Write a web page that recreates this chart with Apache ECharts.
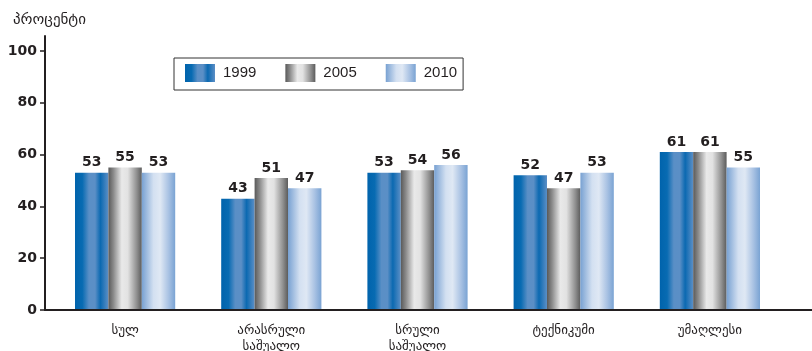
<!DOCTYPE html>
<html>
<head>
<meta charset="utf-8">
<script src="https://cdn.jsdelivr.net/npm/echarts@6/dist/echarts.min.js"></script>
<style>
  html, body { margin: 0; padding: 0; background: #fff; }
  #chart { width: 812px; height: 351px; }
</style>
</head>
<body>
<div id="chart"></div>
<script>
// Education levels and shares (percent) by survey year
const categories = ['სულ', 'არასრული\nსაშუალო', 'სრული\nსაშუალო', 'ტექნიკუმი', 'უმაღლესი'];
const years = ['1999', '2005', '2010'];
const values1999 = [53, 43, 53, 52, 61];
const values2005 = [55, 51, 54, 47, 61];
const values2010 = [53, 47, 56, 53, 55];
const yTicks = [0, 20, 40, 60, 80, 100];
const yTitle = 'პროცენტი';

const ink = '#231f20';
const font = 'DejaVu Sans';

function hGrad(stops) {
  return {
    type: 'linear', x: 0, y: 0, x2: 1, y2: 0,
    colorStops: stops.map(([offset, color]) => ({ offset, color }))
  };
}

const fills = [
  hGrad([[0, '#0063ac'], [0.22, '#086bb2'], [0.42, '#5a8fc6'], [0.6, '#5b8fc6'], [0.76, '#0b69b1'], [1, '#5c8fc6']]),
  hGrad([[0, '#595959'], [0.15, '#8a8a8a'], [0.4, '#e9e9e9'], [0.58, '#e2e2e2'], [0.85, '#8f8f8f'], [1, '#5c5c5c']]),
  hGrad([[0, '#78a1d2'], [0.35, '#d3e0f1'], [0.55, '#dfe8f4'], [0.8, '#a9c2e3'], [1, '#7aa3d3']])
];

const seriesValues = [values1999, values2005, values2010];
const yMax = 105.8;

const chart = echarts.init(document.getElementById('chart'), null, { renderer: 'canvas' });
chart.setOption({
  animation: false,
  backgroundColor: '#fff',
  title: {
    text: yTitle, left: 8, top: 8,
    textStyle: { fontFamily: font, fontSize: 15, fontWeight: 'normal', color: ink }
  },
  legend: {
    data: years,
    left: 174, top: 58,
    orient: 'horizontal',
    icon: 'rect',
    itemWidth: 30, itemHeight: 18,
    itemGap: 29,
    padding: [6, 6, 8, 11],
    borderColor: '#333', borderWidth: 1,
    textStyle: { fontFamily: 'Liberation Sans', fontSize: 15, color: ink, padding: [0, 0, 0, 3] }
  },
  grid: [
    { left: 45, right: 0, top: 36, bottom: 41, outerBoundsMode: 'none' },
    { left: 52, width: 731, top: 36, bottom: 41, outerBoundsMode: 'none' }
  ],
  xAxis: [
    {
      gridIndex: 0, type: 'value', min: 0, max: 1,
      axisLine: { show: true, lineStyle: { color: ink, width: 2 } },
      axisTick: { show: false }, axisLabel: { show: false }, splitLine: { show: false },
      z: 5
    },
    {
      gridIndex: 1, type: 'category', data: categories,
      axisLine: { show: false }, axisTick: { show: false }, splitLine: { show: false },
      axisLabel: { fontFamily: font, fontSize: 13, color: ink, margin: 13, lineHeight: 16 }
    }
  ],
  yAxis: [
    {
      gridIndex: 0, type: 'value', min: 0, max: yMax,
      axisLine: { show: true, lineStyle: { color: ink, width: 2 } },
      axisTick: { show: true, length: 5, customValues: yTicks, lineStyle: { color: ink, width: 1.5 } },
      axisLabel: { customValues: yTicks, fontFamily: font, fontSize: 14, fontWeight: 'bold', color: ink, margin: 8 },
      splitLine: { show: false }
    },
    {
      gridIndex: 1, type: 'value', min: 0, max: yMax, show: false, splitLine: { show: false }
    }
  ],
  series: years.map((name, i) => ({
    name, type: 'bar',
    xAxisIndex: 1, yAxisIndex: 1,
    data: seriesValues[i],
    barWidth: 33.4, barGap: '0%',
    itemStyle: { color: fills[i] },
    label: {
      show: true, position: 'top', distance: 3,
      fontFamily: font, fontSize: 14, fontWeight: 'bold', color: ink
    },
    z: 1
  }))
});
</script>
</body>
</html>
